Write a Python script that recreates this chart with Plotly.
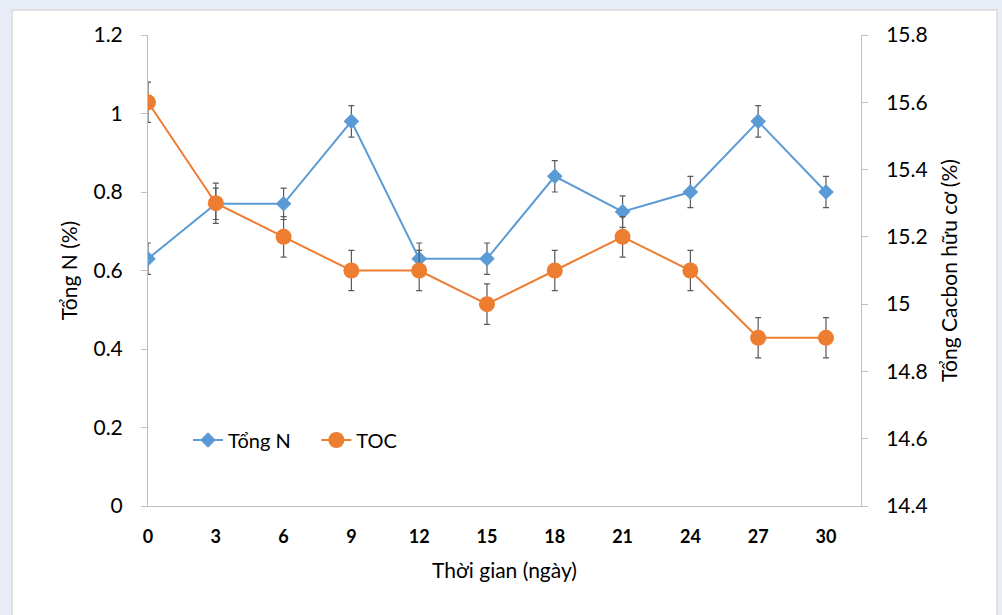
import plotly.graph_objects as go

days = [0, 3, 6, 9, 12, 15, 18, 21, 24, 27, 30]
tong_n = [0.63, 0.77, 0.77, 0.98, 0.63, 0.63, 0.84, 0.75, 0.80, 0.98, 0.80]
tong_n_err = [0.04] * 11
toc = [15.6, 15.3, 15.2, 15.1, 15.1, 15.0, 15.1, 15.2, 15.1, 14.9, 14.9]
toc_err = [0.06] * 11

FONT = "Lato"
L, R, T, B = 148, 861, 35, 506
W, H = 1002, 615
pw, ph = R - L, B - T

fig = go.Figure()
fig.add_trace(go.Scatter(
    x=days, y=tong_n, name="Tổng N    ", mode="lines+markers",
    line=dict(color="#5B9BD5", width=2),
    marker=dict(symbol="diamond", size=12, color="#5B9BD5"),
    error_y=dict(type="data", array=tong_n_err, color="#595959", thickness=1.2, width=3),
))
fig.add_trace(go.Scatter(
    x=days, y=toc, name="TOC", mode="lines+markers", yaxis="y2",
    line=dict(color="#ED7D31", width=2),
    marker=dict(symbol="circle", size=16, color="#ED7D31"),
    error_y=dict(type="data", array=toc_err, color="#595959", thickness=1.2, width=3),
))

fig.add_shape(type="rect", xref="paper", yref="paper", layer="below",
              x0=(12 - L) / pw, x1=(997 - L) / pw,
              y0=(B - 640) / ph, y1=(B - 10) / ph,
              fillcolor="white", line=dict(color="#D9D9D9", width=1.5))

fig.update_layout(
    width=W, height=H,
    margin=dict(l=L, r=W - R, t=T, b=H - B),
    paper_bgcolor="#E8ECF6", plot_bgcolor="white",
    font=dict(family=FONT, color="#000000", size=18),
    showlegend=True,
    legend=dict(orientation="h", x=(188 - L) / pw, y=(B - 440) / ph,
                xanchor="left", yanchor="middle", bgcolor="rgba(0,0,0,0)",
                font=dict(family=FONT, size=20), itemwidth=30),
    xaxis=dict(range=[0, 31.55], tickmode="array", tickvals=days,
               ticktext=[f"<b>{d}</b>" for d in days],
               showgrid=False, zeroline=False, showline=True,
               linecolor="#BFBFBF", linewidth=1, ticks="",
               tickfont=dict(size=18), ticklabelstandoff=14,
               title=dict(text="Thời gian (ngày)", font=dict(size=21), standoff=17)),
    yaxis=dict(range=[0, 1.2], dtick=0.2, showgrid=False, zeroline=False,
               showline=True, linecolor="#BFBFBF", linewidth=1,
               ticks="outside", ticklen=6, tickcolor="#BFBFBF",
               tickfont=dict(size=21), ticklabelstandoff=14,
               title=dict(text="Tổng N (%)", font=dict(size=21), standoff=10)),
    yaxis2=dict(range=[14.4, 15.8], dtick=0.2, overlaying="y", side="right",
                showgrid=False, zeroline=False, showline=True,
                linecolor="#BFBFBF", linewidth=1,
                ticks="outside", ticklen=6, tickcolor="#BFBFBF",
                tickfont=dict(size=21), ticklabelstandoff=14,
                title=dict(text="Tổng Cacbon hữu cơ (%)", font=dict(size=21), standoff=15)),
)

fig.write_html("out.html", config={"displayModeBar": False},
               post_script="document.body.style.margin='0';document.body.style.background='#E8ECF6';document.body.style.overflow='hidden';")
